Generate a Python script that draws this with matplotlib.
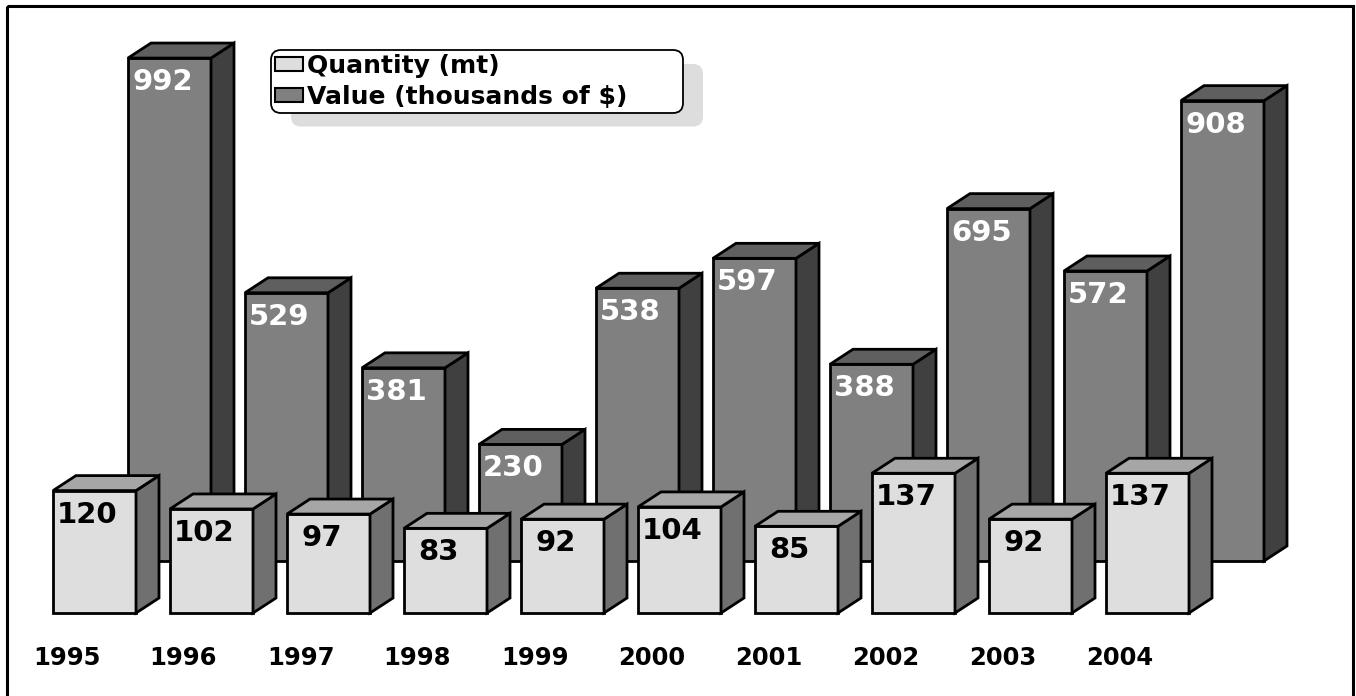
import matplotlib
matplotlib.use('Agg')
import matplotlib.pyplot as plt
from matplotlib.patches import Polygon, Rectangle, FancyBboxPatch
from matplotlib.transforms import IdentityTransform

# ---- data ----
years = ['1995', '1996', '1997', '1998', '1999', '2000', '2001', '2002', '2003', '2004']
quantity = [120, 102, 97, 83, 92, 104, 85, 137, 92, 137]
value = [992, 529, 381, 230, 538, 597, 388, 695, 572, 908]
series_labels = ['Quantity (mt)', 'Value (thousands of $)']

# ---- layout (pixel space) ----
W, H = 1356, 696
fig = plt.figure(figsize=(W / 100, H / 100), dpi=100)
ax = fig.add_axes([0, 0, 1, 1])
ax.set_xlim(0, W)
ax.set_ylim(H, 0)
ax.axis('off')

step = 117
bar_w = 83
dx, dy = 23, 15
LW = 2.0
FONT = 'DejaVu Sans'

rows = [
    dict(vals=value, x0=128, base=561, scale=0.507,
         face='#808080', side='#404040', top='#5f5f5f', txt='white', z=1),
    dict(vals=quantity, x0=53, base=613, scale=1.02,
         face='#dedede', side='#707070', top='#a6a6a6', txt='black', z=4),
]

for r in rows:
    xs = [r['x0'] + i * step for i in range(len(r['vals']))]
    hs = [v * r['scale'] for v in r['vals']]
    ax.bar(xs, [-h for h in hs], bottom=r['base'], width=bar_w, align='edge',
           color=r['face'], edgecolor='black', linewidth=LW, zorder=r['z'])
    for x, h, v in zip(xs, hs, r['vals']):
        b = r['base']
        yt = b - h
        side = Polygon([(x + bar_w, b), (x + bar_w + dx, b - dy),
                        (x + bar_w + dx, yt - dy), (x + bar_w, yt)],
                       closed=True, facecolor=r['side'], edgecolor='black',
                       linewidth=LW, zorder=r['z'] + 0.1)
        top = Polygon([(x, yt), (x + dx, yt - dy), (x + bar_w + dx, yt - dy),
                       (x + bar_w, yt)],
                      closed=True, facecolor=r['top'], edgecolor='black',
                      linewidth=LW, zorder=r['z'] + 0.1)
        ax.add_patch(side)
        ax.add_patch(top)
        ax.text(x + bar_w / 2 - 7, yt + 32, str(v), ha='center', va='baseline',
                fontsize=21, fontweight='bold', family=FONT, color=r['txt'],
                zorder=r['z'] + 0.5)

# category labels
for i, yr in enumerate(years):
    ax.text(53 + i * step + bar_w / 2 - 28, 658, yr, ha='center', va='center',
            fontsize=17.5, fontweight='bold', family=FONT, color='black', zorder=8)

# outer frame
ax.add_patch(Rectangle((7, 6), W - 10, H + 20, fill=False, edgecolor='black',
                       linewidth=2.2, zorder=9, clip_on=False))

# legend
handles = [Rectangle((0, 0), 1, 1, facecolor=rows[1]['face'], edgecolor='black', linewidth=1.5),
           Rectangle((0, 0), 1, 1, facecolor=rows[0]['face'], edgecolor='black', linewidth=1.5)]
leg = ax.legend(handles, series_labels, loc='upper left', mode='expand',
                bbox_to_anchor=(271 / W, 1 - 113 / H, (683 - 271) / W, 63 / H),
                bbox_transform=fig.transFigure,
                prop=dict(family=FONT, weight='bold', size=18),
                frameon=True, fancybox=True, edgecolor='black', facecolor='white',
                framealpha=1, borderpad=0.14, borderaxespad=0, handlelength=1.15,
                handleheight=0.48, handletextpad=0.15, labelspacing=0.3)
leg.get_frame().set_linewidth(1.3)
leg.get_frame().set_boxstyle('round,pad=0,rounding_size=0.4')
leg.set_zorder(10)

fig.canvas.draw()
bb = leg.get_frame().get_window_extent()
shadow = FancyBboxPatch((bb.x0 + 20, bb.y0 - 14), bb.width, bb.height,
                        boxstyle='round,pad=0,rounding_size=10',
                        transform=IdentityTransform(), facecolor='#dddddd',
                        edgecolor='none', zorder=9.5)
ax.add_artist(shadow)

fig.savefig('out.png', dpi=100)
